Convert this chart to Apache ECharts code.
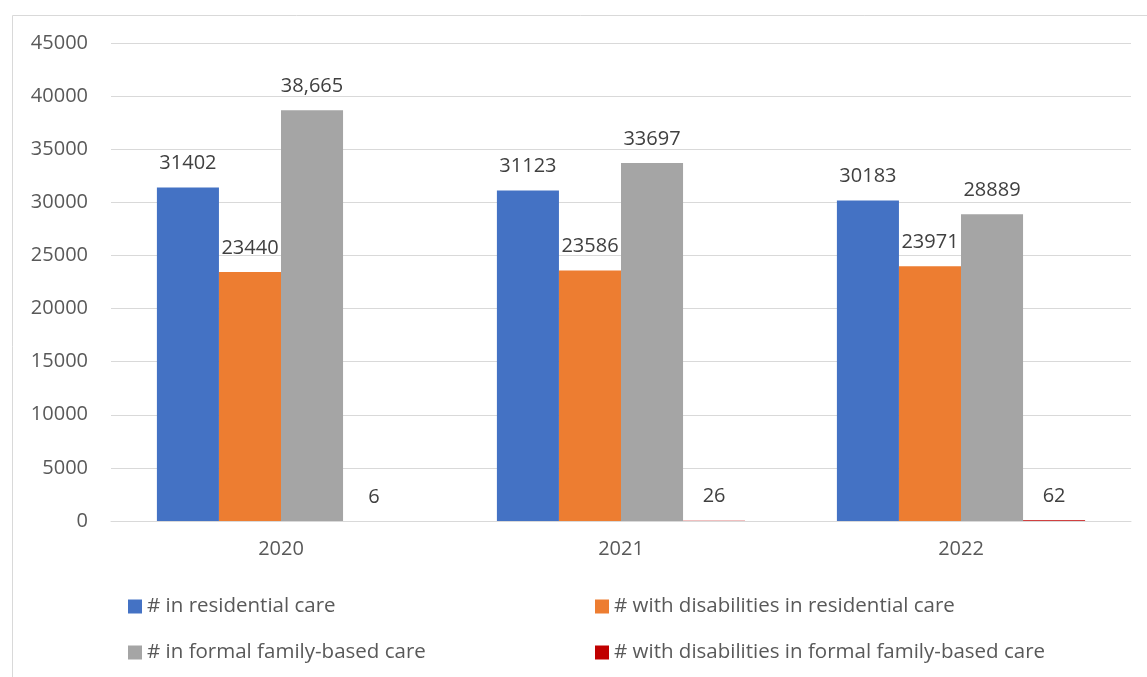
<!DOCTYPE html>
<html>
<head>
<meta charset="utf-8">
<script src="https://cdn.jsdelivr.net/npm/echarts@6/dist/echarts.min.js"></script>
<style>html,body{margin:0;padding:0;background:#fff;}#c{width:1147px;height:677px;}</style>
</head>
<body>
<div id="c"></div>
<script>
const categories = ['2020', '2021', '2022'];
const seriesNames = [
  '# in residential care',
  '# with disabilities in residential care',
  '# in formal family-based care',
  '# with disabilities in formal family-based care'
];
const residential = [31402, 31123, 30183];
const residentialDisab = [23440, 23586, 23971];
const familyBased = [38665, 33697, 28889];
const familyBasedDisab = [6, 26, 62];
const familyBasedLabels = ['38,665', '33697', '28889'];
const yTicks = [0, 5000, 10000, 15000, 20000, 25000, 30000, 35000, 40000, 45000];
const colors = ['#4472c4', '#ed7d31', '#a5a5a5', '#c00000'];

const font = 'Open Sans';
const labelStyle = (fmt) => ({
  show: true, position: 'top', distance: 14,
  color: '#404040', fontFamily: font, fontSize: 20,
  formatter: fmt || (p => String(p.value))
});
const mk = (i, data, fmt) => ({
  name: seriesNames[i], type: 'bar', data: data,
  itemStyle: { color: colors[i] },
  barGap: '0%', barCategoryGap: '27%',
  label: labelStyle(fmt)
});
const legendStyle = { fontFamily: font, fontSize: 20.5, color: '#595959', lineHeight: 20 };

const chart = echarts.init(document.getElementById('c'));
chart.setOption({
  animation: false,
  grid: { left: 111, right: 16, top: 43, bottom: 156 },
  graphic: [{
    type: 'rect', left: 10, top: 13, silent: true, z: -1,
    shape: { width: 1160, height: 700 },
    style: { fill: 'none', stroke: '#d9d9d9', lineWidth: 1 }
  }],
  legend: [{
    left: 128, top: 596, orient: 'vertical', padding: 0,
    data: [seriesNames[0], seriesNames[2]],
    itemWidth: 14, itemHeight: 14, itemGap: 25,
    icon: 'rect', textStyle: legendStyle
  }, {
    left: 595, top: 596, orient: 'vertical', padding: 0,
    data: [seriesNames[1], seriesNames[3]],
    itemWidth: 14, itemHeight: 14, itemGap: 25,
    icon: 'rect', textStyle: legendStyle
  }],
  xAxis: {
    type: 'category', data: categories,
    axisLine: { show: true, lineStyle: { color: '#d9d9d9' } },
    axisTick: { show: false },
    axisLabel: { color: '#595959', fontFamily: font, fontSize: 20, margin: 18 }
  },
  yAxis: {
    type: 'value', min: yTicks[0], max: yTicks[yTicks.length - 1], interval: yTicks[1] - yTicks[0],
    axisLine: { show: false }, axisTick: { show: false },
    splitLine: { lineStyle: { color: '#d9d9d9', width: 1 } },
    axisLabel: { color: '#595959', fontFamily: font, fontSize: 20, margin: 23, formatter: v => String(v) }
  },
  series: [
    mk(0, residential),
    mk(1, residentialDisab),
    mk(2, familyBased, p => familyBasedLabels[p.dataIndex]),
    mk(3, familyBasedDisab)
  ]
});
</script>
</body>
</html>
